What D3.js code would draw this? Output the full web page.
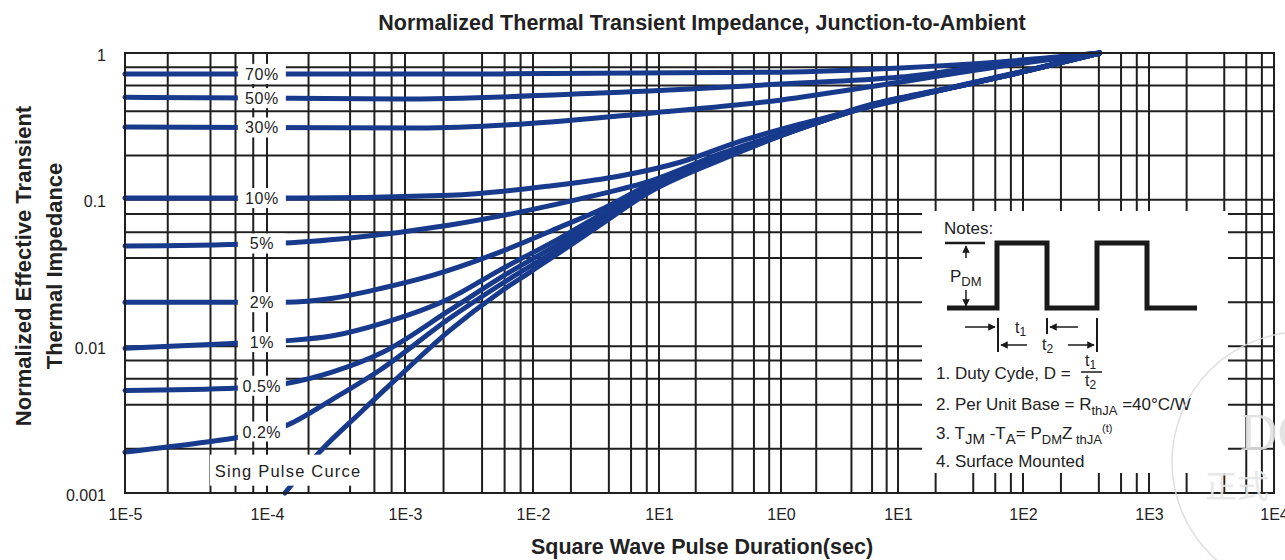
<!DOCTYPE html>
<html>
<head>
<meta charset="utf-8">
<script src="https://cdn.jsdelivr.net/npm/d3@7"></script>
<style>
body { margin: 0; background: #fff; }
text { font-family: "Liberation Sans", Arial, sans-serif; fill: #222; }
</style>
</head>
<body>
<div id="chart"></div>
<script>
// axis ticks (the original chart labels 0.1 s as "1E1")
const xDecades = [1e-5, 1e-4, 1e-3, 1e-2, 1e-1, 1, 1e1, 1e2, 1e3, 1e4];
const xTickLabels = ["1E-5", "1E-4", "1E-3", "1E-2", "1E1", "1E0", "1E1", "1E2", "1E3", "1E4"];
const yDecades = [0.001, 0.01, 0.1, 1];
const yTickLabels = ["0.001", "0.01", "0.1", "1"];
const minorSteps = [2, 4, 6, 8];

// duty cycle curves, [pulse duration (s), normalized Zth]
const duty70 = [[1e-5, 0.72], [5.5e-3, 0.72], [0.98, 0.74], [10.4, 0.79], [65, 0.87], [408, 1.0]];
const duty50 = [[1e-5, 0.50], [9e-4, 0.485], [3.4e-2, 0.533], [0.98, 0.614], [10.4, 0.685], [65, 0.84], [408, 1.0]];
const duty30 = [[1e-5, 0.313], [1.3e-3, 0.308], [7.9e-3, 0.327], [8.5e-2, 0.389], [0.98, 0.477], [10.4, 0.634], [65, 0.81], [408, 1.0]];
const duty10 = [[1e-5, 0.1026], [1.7e-4, 0.1026], [2.25e-3, 0.107], [1.36e-2, 0.124], [4.9e-2, 0.145], [0.149, 0.18],
    [0.46, 0.25], [1.45, 0.327], [5.8, 0.43], [26, 0.576], [114, 0.765], [408, 1.0]];
const duty5 = [[1e-5, 0.0483], [1.35e-4, 0.0506], [4e-4, 0.0547], [2.25e-3, 0.0671], [7.9e-3, 0.0823], [2.7e-2, 0.104],
    [9e-2, 0.136], [0.316, 0.205], [0.98, 0.28], [5.8, 0.445], [26, 0.58], [114, 0.77], [408, 1.0]];
const duty2 = [[1e-5, 0.02], [1.35e-4, 0.02], [3e-4, 0.0213], [6.9e-4, 0.025], [1.66e-3, 0.0306], [5.5e-3, 0.0439],
    [1.64e-2, 0.065], [3.4e-2, 0.085], [8.5e-2, 0.128], [0.316, 0.2], [0.98, 0.277], [5.8, 0.44], [26, 0.576], [114, 0.765], [408, 1.0]];
const duty1 = [[1e-5, 0.0097], [6.3e-5, 0.0105], [1.35e-4, 0.0109], [3e-4, 0.0118], [6.9e-4, 0.0144], [2.25e-3, 0.0213],
    [5.5e-3, 0.0331], [1.64e-2, 0.0547], [3.4e-2, 0.0785], [8.5e-2, 0.124], [0.316, 0.197], [0.98, 0.275], [5.8, 0.44],
    [26, 0.576], [114, 0.765], [408, 1.0]];
const duty05 = [[1e-5, 0.005], [6.3e-5, 0.0052], [1.4e-4, 0.0056], [3e-4, 0.0067], [6.9e-4, 0.0091], [2.25e-3, 0.0177],
    [5.5e-3, 0.0292], [1.64e-2, 0.0506], [3.4e-2, 0.0738], [8.5e-2, 0.12], [0.316, 0.195], [0.98, 0.273], [5.8, 0.437],
    [26, 0.576], [114, 0.765], [408, 1.0]];
const duty02 = [[1e-5, 0.0019], [3.4e-5, 0.0022], [6.3e-5, 0.0024], [1.4e-4, 0.0029], [3e-4, 0.00437], [6.6e-4, 0.0069],
    [2.25e-3, 0.0156], [5.5e-3, 0.0262], [1.64e-2, 0.0468], [3.4e-2, 0.0703], [8.5e-2, 0.116], [0.316, 0.193], [0.98, 0.272],
    [5.8, 0.436], [26, 0.576], [114, 0.765], [408, 1.0]];
const singlePulse = [[1.35e-4, 0.001], [2.4e-4, 0.0019], [4.7e-4, 0.0035], [8.5e-4, 0.0059], [2.25e-3, 0.0129], [5.5e-3, 0.0234],
    [9.5e-3, 0.0321], [1.64e-2, 0.0439], [3.4e-2, 0.0671], [8.5e-2, 0.113], [0.316, 0.186], [0.98, 0.271], [5.8, 0.434],
    [26, 0.576], [114, 0.765], [408, 1.0]];

const dutyCurves = [duty70, duty50, duty30, duty10, duty5, duty2, duty1, duty05, duty02];
const dutyNames = ["70%", "50%", "30%", "10%", "5%", "2%", "1%", "0.5%", "0.2%"];

const svg_width = 1285, svg_height = 560;
const plot = { left: 125, right: 1274, top: 53, bottom: 493 };
// decade lines of the original are not evenly spaced
const xRange = [125, 267, 405, 533, 659, 781, 898, 1023, 1149, 1274];
const curveColor = "#173a8c";
const gridColor = "#1f1f1f";

const svg = d3.select("#chart")
    .append("svg")
    .attr("width", svg_width)
    .attr("height", svg_height);

const x = d3.scaleLog().domain(xDecades).range(xRange);
const y = d3.scaleLog().domain([yDecades[0], yDecades[yDecades.length - 1]]).range([plot.bottom, plot.top]);

// grid values: decades plus minor steps
const xGrid = [];
xDecades.forEach(function (d, i) {
    xGrid.push(d);
    if (i < xDecades.length - 1) minorSteps.forEach(m => xGrid.push(d * m));
});
const yGrid = [];
yDecades.forEach(function (d, i) {
    yGrid.push(d);
    if (i < yDecades.length - 1) minorSteps.forEach(m => yGrid.push(d * m));
});

const grid = svg.append("g");
grid.selectAll(".vline")
    .data(xGrid)
    .enter()
    .append("line")
    .attr("x1", d => x(d)).attr("x2", d => x(d))
    .attr("y1", plot.top).attr("y2", plot.bottom)
    .attr("stroke", gridColor)
    .attr("stroke-width", 2);
grid.selectAll(".hline")
    .data(yGrid)
    .enter()
    .append("line")
    .attr("x1", plot.left).attr("x2", plot.right)
    .attr("y1", d => y(d)).attr("y2", d => y(d))
    .attr("stroke", gridColor)
    .attr("stroke-width", 2);

// axes: labels only
svg.append("g")
    .attr("transform", `translate(0, ${plot.bottom + 13})`)
    .call(d3.axisBottom(x).tickValues(xDecades).tickSize(0).tickFormat((d, i) => xTickLabels[i]))
    .call(g => g.select(".domain").remove())
    .selectAll("text")
    .style("font-size", "16px")
    .style("font-family", "'Liberation Sans', Arial, sans-serif")
    .attr("fill", "#222");

svg.append("g")
    .attr("transform", `translate(${plot.left - 16}, 2)`)
    .call(d3.axisLeft(y).tickValues(yDecades).tickSize(0).tickFormat((d, i) => yTickLabels[i]))
    .call(g => g.select(".domain").remove())
    .selectAll("text")
    .style("font-size", "16px")
    .style("font-family", "'Liberation Sans', Arial, sans-serif")
    .attr("fill", "#222");

// curves
const line = d3.line()
    .x(d => x(d[0]))
    .y(d => y(d[1]))
    .curve(d3.curveMonotoneX);

svg.append("g")
    .selectAll("path")
    .data(dutyCurves.concat([singlePulse]))
    .enter()
    .append("path")
    .attr("d", line)
    .attr("fill", "none")
    .attr("stroke", curveColor)
    .attr("stroke-width", 5)
    .attr("stroke-linecap", "round");

// curve value at a given duration (log-log interpolation)
function valueAt(curve, t) {
    for (let i = 1; i < curve.length; i++) {
        if (curve[i][0] >= t) {
            const a = curve[i - 1], b = curve[i];
            const f = (Math.log(t) - Math.log(a[0])) / (Math.log(b[0]) - Math.log(a[0]));
            return Math.exp(Math.log(a[1]) + f * (Math.log(b[1]) - Math.log(a[1])));
        }
    }
    return curve[curve.length - 1][1];
}

// duty labels sit on their curves
const labelT = 9.2e-5;
const labels = svg.append("g");
dutyCurves.forEach(function (c, i) {
    const ly = y(valueAt(c, labelT));
    labels.append("rect")
        .attr("x", x(labelT) - 24)
        .attr("y", ly - 10)
        .attr("width", 48)
        .attr("height", 20)
        .attr("fill", "#fff");
    labels.append("text")
        .attr("x", x(labelT))
        .attr("y", ly + 6)
        .attr("text-anchor", "middle")
        .style("font-size", "16px")
        .style("letter-spacing", "0.5px")
        .text(dutyNames[i]);
});

const spT = 1.42e-4, spZ = 0.00142;
labels.append("rect")
    .attr("x", x(spT) - 78)
    .attr("y", y(spZ) - 16)
    .attr("width", 156)
    .attr("height", 31)
    .attr("fill", "#fff");
labels.append("text")
    .attr("x", x(spT))
    .attr("y", y(spZ) + 6)
    .attr("text-anchor", "middle")
    .style("font-size", "16.5px")
    .style("letter-spacing", "1.2px")
    .text("Sing Pulse Curce");

// frame
svg.append("rect")
    .attr("x", plot.left).attr("y", plot.top)
    .attr("width", plot.right - plot.left).attr("height", plot.bottom - plot.top)
    .attr("fill", "none")
    .attr("stroke", gridColor)
    .attr("stroke-width", 2);

// titles
svg.append("text")
    .attr("x", 702).attr("y", 30)
    .attr("text-anchor", "middle")
    .style("font-size", "21.5px")
    .style("font-weight", "700")
    .text("Normalized Thermal Transient Impedance, Junction-to-Ambient");

svg.append("text")
    .attr("x", 702).attr("y", 554)
    .attr("text-anchor", "middle")
    .style("font-size", "21.5px")
    .style("font-weight", "700")
    .text("Square Wave Pulse Duration(sec)");

svg.append("text")
    .attr("transform", "translate(31, 266) rotate(-90)")
    .attr("text-anchor", "middle")
    .style("font-size", "22px")
    .style("font-weight", "700")
    .text("Normalized Effective Transient");
svg.append("text")
    .attr("transform", "translate(62, 266) rotate(-90)")
    .attr("text-anchor", "middle")
    .style("font-size", "22px")
    .style("font-weight", "700")
    .text("Thermal Impedance");

// notes box
const notes = svg.append("g");
notes.append("rect")
    .attr("x", 922).attr("y", 211)
    .attr("width", 306).attr("height", 262)
    .attr("fill", "#fff");

notes.append("text").attr("x", 944).attr("y", 234).style("font-size", "17px").text("Notes:");

const ink = "#1a1a1a";
svg.append("defs").append("marker")
    .attr("id", "arrow")
    .attr("viewBox", "0 0 10 10")
    .attr("refX", 9).attr("refY", 5)
    .attr("markerWidth", 5).attr("markerHeight", 5)
    .attr("orient", "auto")
    .append("path")
    .attr("d", "M0,0 L10,5 L0,10 Z")
    .attr("fill", ink);

notes.append("path")
    .attr("d", "M947,308 H997 V243 H1047 V308 H1097 V243 H1147 V308 H1197")
    .attr("fill", "none").attr("stroke", ink).attr("stroke-width", 5);
notes.append("line").attr("x1", 945).attr("x2", 985).attr("y1", 243).attr("y2", 243)
    .attr("stroke", ink).attr("stroke-width", 2.5);
notes.append("line").attr("x1", 966).attr("x2", 966).attr("y1", 258).attr("y2", 246)
    .attr("stroke", ink).attr("stroke-width", 1.5).attr("marker-end", "url(#arrow)");
notes.append("line").attr("x1", 966).attr("x2", 966).attr("y1", 290).attr("y2", 306)
    .attr("stroke", ink).attr("stroke-width", 1.5).attr("marker-end", "url(#arrow)");
const pdm = notes.append("text").attr("x", 950).attr("y", 282).style("font-size", "17px");
pdm.append("tspan").text("P");
pdm.append("tspan").attr("dy", 4).style("font-size", "13px").text("DM");

// t1 / t2 dimensions
[[998, 318, 352], [1047, 318, 334], [1097, 318, 352]].forEach(function (v) {
    notes.append("line").attr("x1", v[0]).attr("x2", v[0]).attr("y1", v[1]).attr("y2", v[2])
        .attr("stroke", ink).attr("stroke-width", 2);
});
[[965, 995, 327], [1078, 1050, 327], [1027, 1001, 345], [1068, 1094, 345]].forEach(function (a) {
    notes.append("line").attr("x1", a[0]).attr("x2", a[1]).attr("y1", a[2]).attr("y2", a[2])
        .attr("stroke", ink).attr("stroke-width", 1.5).attr("marker-end", "url(#arrow)");
});
const t1 = notes.append("text").attr("x", 1015).attr("y", 333).style("font-size", "16px");
t1.append("tspan").text("t");
t1.append("tspan").attr("dy", 3).style("font-size", "12px").text("1");
const t2 = notes.append("text").attr("x", 1042).attr("y", 350).style("font-size", "16px");
t2.append("tspan").text("t");
t2.append("tspan").attr("dy", 3).style("font-size", "12px").text("2");

notes.append("text").attr("x", 936).attr("y", 379).style("font-size", "17px").text("1. Duty Cyde, D =");
const fn = notes.append("text").attr("x", 1085).attr("y", 366).style("font-size", "16px");
fn.append("tspan").text("t");
fn.append("tspan").attr("dy", 3).style("font-size", "12px").text("1");
notes.append("line").attr("x1", 1081).attr("x2", 1102).attr("y1", 372).attr("y2", 372)
    .attr("stroke", ink).attr("stroke-width", 1.5);
const fd = notes.append("text").attr("x", 1085).attr("y", 386).style("font-size", "16px");
fd.append("tspan").text("t");
fd.append("tspan").attr("dy", 3).style("font-size", "12px").text("2");

const n2 = notes.append("text").attr("x", 936).attr("y", 410).style("font-size", "17px");
n2.append("tspan").text("2. Per Unit Base = R");
n2.append("tspan").attr("dy", 5).style("font-size", "13px").text("thJA");
n2.append("tspan").attr("dy", -5).text(" =40\u00B0C/W");

const n3 = notes.append("text").attr("x", 936).attr("y", 439).style("font-size", "17px");
n3.append("tspan").text("3. T");
n3.append("tspan").attr("dy", 5).style("font-size", "15px").text("JM");
n3.append("tspan").attr("dy", -5).text(" -T");
n3.append("tspan").attr("dy", 5).style("font-size", "15px").text("A");
n3.append("tspan").attr("dy", -5).text("= P");
n3.append("tspan").attr("dy", 5).style("font-size", "13px").text("DM");
n3.append("tspan").attr("dy", -5).text("Z");
n3.append("tspan").attr("dy", 5).style("font-size", "13px").text(" thJA");
n3.append("tspan").attr("dy", -12).style("font-size", "11px").text("(t)");

notes.append("text").attr("x", 936).attr("y", 467).style("font-size", "17px").text("4. Surface Mounted");

// faint watermark in the corner
const wm = svg.append("g").attr("opacity", 0.9);
wm.append("circle").attr("cx", 1302).attr("cy", 462).attr("r", 130)
    .attr("fill", "none").attr("stroke", "#dcdcdc").attr("stroke-width", 1.5);
wm.append("text").attr("x", 1240).attr("y", 450)
    .style("font-family", "'Liberation Serif', serif").style("font-size", "52px")
    .style("fill", "#e2e2e2").text("DC");
wm.append("text").attr("x", 1205).attr("y", 498)
    .style("font-family", "'Noto Sans CJK SC', sans-serif").style("font-size", "32px")
    .style("fill", "#e6e6e6").text("正式");
</script>
</body>
</html>
